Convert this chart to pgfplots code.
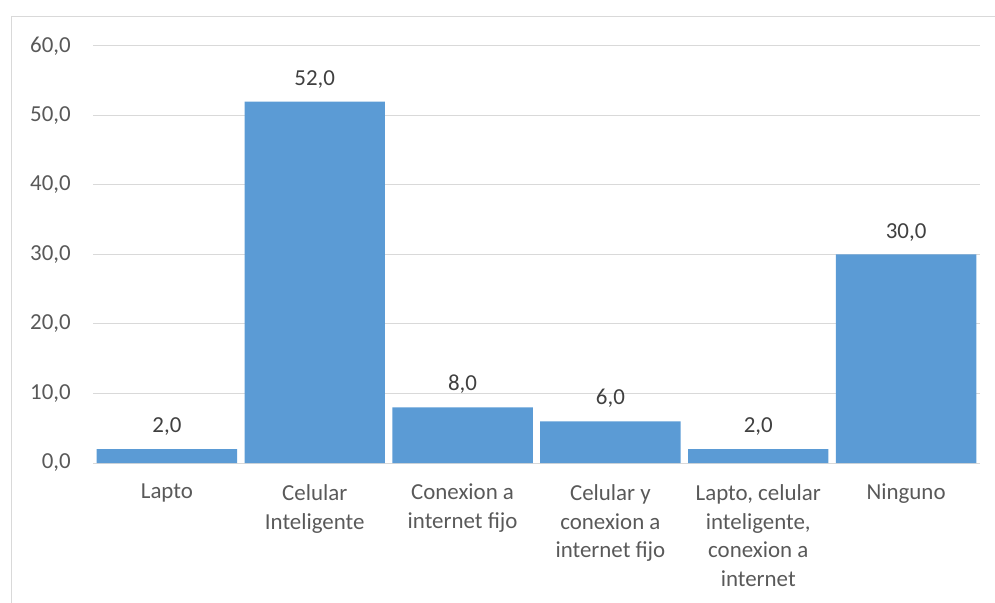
\documentclass[border=0pt]{standalone}
\usepackage{pgfplots}
\pgfplotsset{compat=1.18}
\usepackage{fontspec}
\setmainfont{Carlito}
\definecolor{barblue}{HTML}{5B9BD5}
\definecolor{gridgray}{HTML}{D9D9D9}
\definecolor{txt}{HTML}{595959}
\definecolor{lbl}{HTML}{404040}
\begin{document}
\begin{tikzpicture}
\useasboundingbox (0bp,0bp) rectangle (995bp,603bp);
\draw[gridgray, line width=1bp] (11.5bp,0bp) -- (11.5bp,586bp) -- (995bp,586bp);
\begin{axis}[
  at={(93bp,140bp)}, anchor=south west,
  scale only axis, width=887bp, height=417bp,
  xmin=-0.5, xmax=5.5, ymin=0, ymax=60,
  ytick={0,10,20,30,40,50,60},
  xtick=data,
  xticklabels={Lapto, {Celular\\Inteligente}, {Conexion a\\internet fijo}, {Celular y\\conexion a\\internet fijo}, {Lapto, celular\\inteligente,\\conexion a\\internet}, Ninguno},
  major tick length=0pt,
  axis line style={draw=none},
  ymajorgrids, grid style={gridgray, line width=1bp},
  /pgf/number format/assume math mode=true,
  yticklabel style={/pgf/number format/.cd, fixed, fixed zerofill, precision=1, use comma, assume math mode=true, /tikz/.cd, font=\fontsize{23}{29}\selectfont, text=txt, anchor=east, inner sep=0pt, xshift=-22bp},
  xticklabel style={align=center, anchor=north, inner sep=0pt, yshift=-21bp, font=\fontsize{23}{29}\selectfont, text=txt},
  ybar, bar width=0.95,
  nodes near coords={\pgfmathprintnumber[fixed,fixed zerofill,precision=1,use comma,assume math mode=true]{\pgfplotspointmeta}},
  every node near coord/.append style={font=\fontsize{23}{29}\selectfont, text=lbl, yshift=10bp},
  clip=false,
]
\addplot[fill=barblue, draw=none] coordinates {(0,2) (1,52) (2,8) (3,6) (4,2) (5,30)};
\end{axis}
\end{tikzpicture}
\end{document}
